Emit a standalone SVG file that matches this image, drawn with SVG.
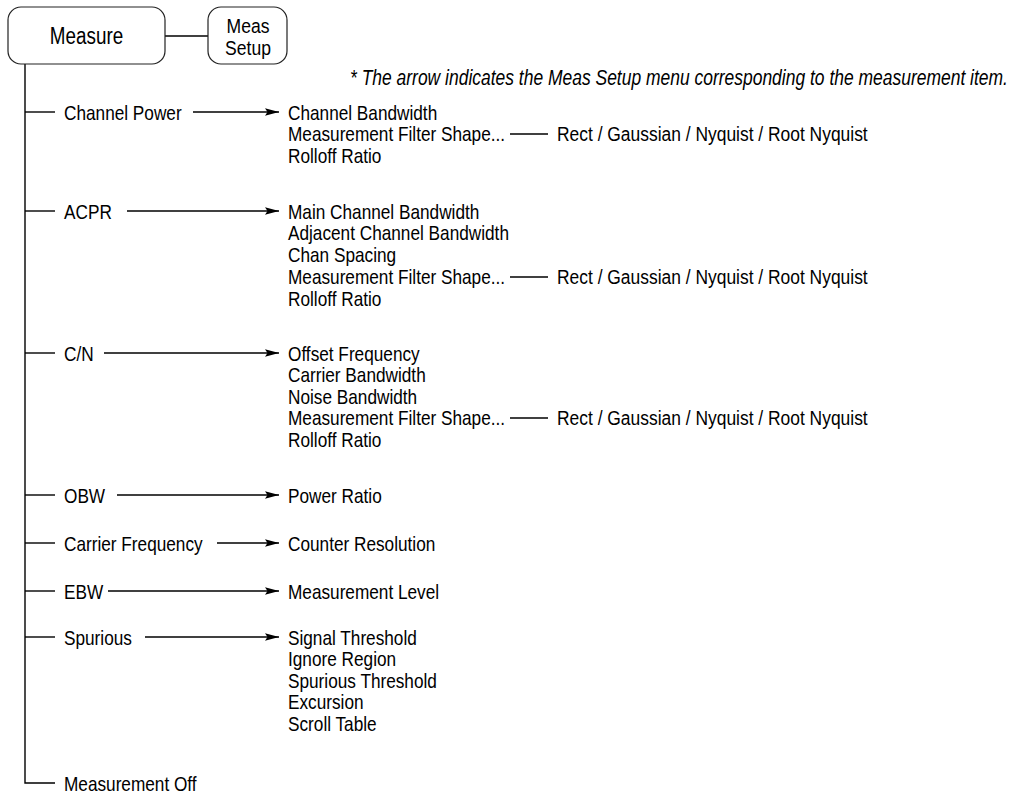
<svg xmlns="http://www.w3.org/2000/svg" width="1011" height="796" viewBox="0 0 1011 796">
<style>
text{font-family:"Liberation Sans",Arial,sans-serif;font-size:21px;fill:#000}
.note{font-style:italic;font-size:21.3px}
.big{font-size:23px}
.sm{font-size:19.5px}
.box{fill:#fff;stroke:#222;stroke-width:1.2}
.ln{stroke:#000;stroke-width:1.4;fill:none}
.arr{stroke:#000;stroke-width:1.4;fill:none;marker-end:url(#ah)}
</style>
<defs>
<marker id="ah" markerUnits="userSpaceOnUse" markerWidth="15" markerHeight="9" refX="14" refY="4.5" orient="auto">
<path d="M0,0.8 L14,4.5 L0,8.2 L2.5,4.5 Z" fill="#000"/>
</marker>
</defs>
<rect width="1011" height="796" fill="#fff"/>
<g id="connectors">
<line class="ln" x1="165" y1="36" x2="208" y2="36" stroke="#666"/>
<path class="ln" d="M25,64 V783 H55"/>
<line class="ln" x1="25" y1="112" x2="55" y2="112"/>
<line class="ln" x1="25" y1="211" x2="55" y2="211"/>
<line class="ln" x1="25" y1="353" x2="55" y2="353"/>
<line class="ln" x1="25" y1="495" x2="55" y2="495"/>
<line class="ln" x1="25" y1="543" x2="55" y2="543"/>
<line class="ln" x1="25" y1="591" x2="55" y2="591"/>
<line class="ln" x1="25" y1="637" x2="55" y2="637"/>
<line class="arr" x1="193" y1="112" x2="279" y2="112"/>
<line class="arr" x1="127" y1="211" x2="279" y2="211"/>
<line class="arr" x1="104" y1="353" x2="279" y2="353"/>
<line class="arr" x1="117" y1="495" x2="279" y2="495"/>
<line class="arr" x1="217" y1="543" x2="279" y2="543"/>
<line class="arr" x1="108" y1="591" x2="279" y2="591"/>
<line class="arr" x1="145" y1="637" x2="279" y2="637"/>
<line class="ln" x1="510" y1="134" x2="548" y2="134"/>
<line class="ln" x1="510" y1="277" x2="548" y2="277"/>
<line class="ln" x1="510" y1="418" x2="548" y2="418"/>
</g>
<g id="measure">
<rect class="box" x="8" y="7" width="157" height="57" rx="13"/>
<text class="big" transform="translate(86.5 44) scale(.82 1)" text-anchor="middle">Measure</text>
</g>
<g id="meas-setup">
<rect class="box" x="208" y="7" width="79" height="57" rx="13"/>
<text class="sm" transform="translate(248 33) scale(.9 1)" text-anchor="middle">Meas</text>
<text class="sm" transform="translate(248 55) scale(.9 1)" text-anchor="middle">Setup</text>
</g>
<g id="note">
<text class="note" transform="translate(350 85) scale(.82 1)">* The arrow indicates the Meas Setup menu corresponding to the measurement item.</text>
</g>
<g id="channel-power">
<text transform="translate(64 119.5) scale(.82 1)">Channel Power</text>
<text transform="translate(288 119.5) scale(.82 1)">Channel Bandwidth</text>
<text transform="translate(288 141) scale(.82 1)">Measurement Filter Shape...</text>
<text transform="translate(557 141) scale(.83 1)">Rect / Gaussian / Nyquist / Root Nyquist</text>
<text transform="translate(288 162.5) scale(.82 1)">Rolloff Ratio</text>
</g>
<g id="acpr">
<text transform="translate(64 218.5) scale(.82 1)">ACPR</text>
<text transform="translate(288 218.5) scale(.82 1)">Main Channel Bandwidth</text>
<text transform="translate(288 240) scale(.82 1)">Adjacent Channel Bandwidth</text>
<text transform="translate(288 262) scale(.82 1)">Chan Spacing</text>
<text transform="translate(288 284) scale(.82 1)">Measurement Filter Shape...</text>
<text transform="translate(557 284) scale(.83 1)">Rect / Gaussian / Nyquist / Root Nyquist</text>
<text transform="translate(288 305.5) scale(.82 1)">Rolloff Ratio</text>
</g>
<g id="cn">
<text transform="translate(64 360.5) scale(.82 1)">C/N</text>
<text transform="translate(288 360.5) scale(.82 1)">Offset Frequency</text>
<text transform="translate(288 382) scale(.82 1)">Carrier Bandwidth</text>
<text transform="translate(288 403.5) scale(.82 1)">Noise Bandwidth</text>
<text transform="translate(288 425) scale(.82 1)">Measurement Filter Shape...</text>
<text transform="translate(557 425) scale(.83 1)">Rect / Gaussian / Nyquist / Root Nyquist</text>
<text transform="translate(288 446.5) scale(.82 1)">Rolloff Ratio</text>
</g>
<g id="obw">
<text transform="translate(64 502.5) scale(.82 1)">OBW</text>
<text transform="translate(288 502.5) scale(.82 1)">Power Ratio</text>
</g>
<g id="carrier-frequency">
<text transform="translate(64 550.5) scale(.82 1)">Carrier Frequency</text>
<text transform="translate(288 550.5) scale(.82 1)">Counter Resolution</text>
</g>
<g id="ebw">
<text transform="translate(64 598.5) scale(.82 1)">EBW</text>
<text transform="translate(288 598.5) scale(.82 1)">Measurement Level</text>
</g>
<g id="spurious">
<text transform="translate(64 644.5) scale(.82 1)">Spurious</text>
<text transform="translate(288 644.5) scale(.82 1)">Signal Threshold</text>
<text transform="translate(288 666) scale(.82 1)">Ignore Region</text>
<text transform="translate(288 687.5) scale(.82 1)">Spurious Threshold</text>
<text transform="translate(288 709) scale(.82 1)">Excursion</text>
<text transform="translate(288 730.5) scale(.82 1)">Scroll Table</text>
</g>
<g id="measurement-off">
<text transform="translate(64 790.5) scale(.82 1)">Measurement Off</text>
</g>
</svg>
